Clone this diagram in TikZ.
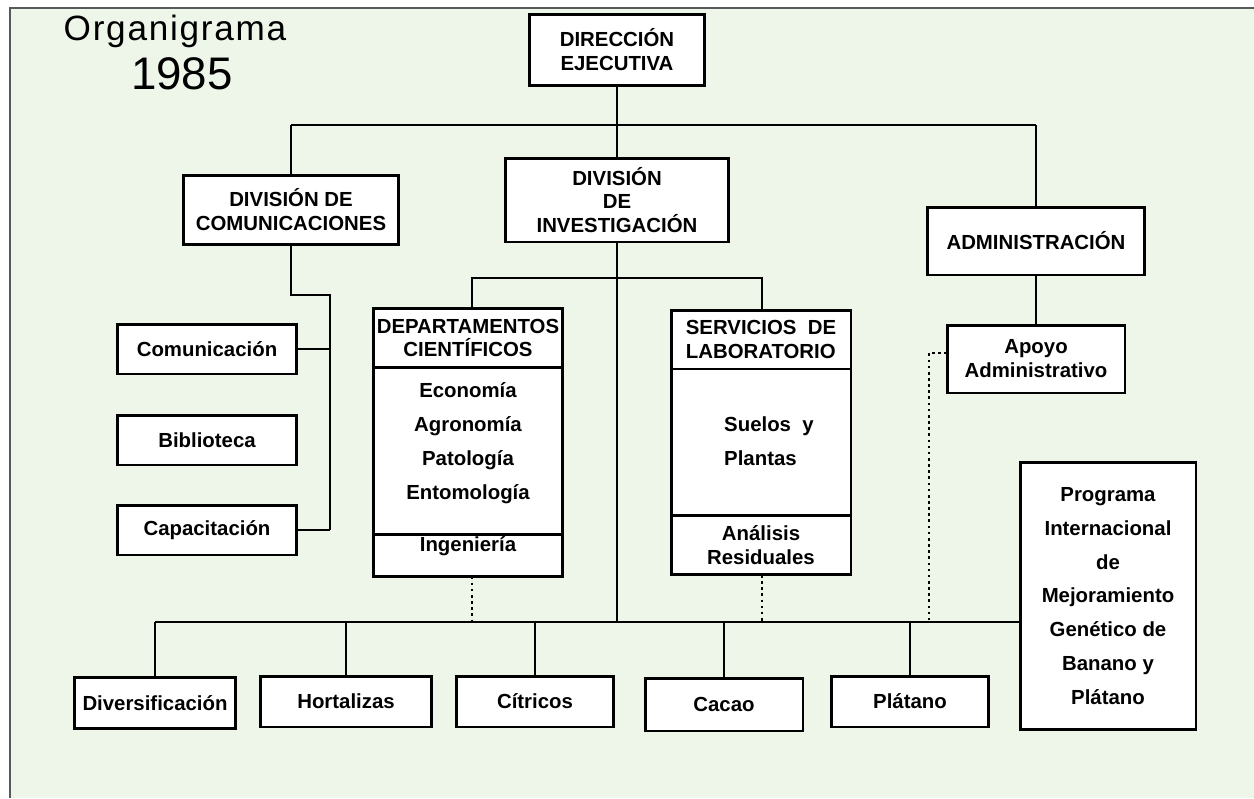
\documentclass[tikz,border=0pt]{standalone}
\usepackage{fontspec}
\setmainfont{Liberation Sans}
\newfontfamily\titlefont[LetterSpace=5]{Liberation Sans}
\usetikzlibrary{positioning}
\definecolor{fondo}{RGB}{238,245,233}
\begin{document}
\begin{tikzpicture}[x=0.02cm, y=-0.02cm,
    caja/.style = {draw, line width=1.7pt, fill=white, outer sep=0pt, inner sep=0pt,
                   align=center, font={\bfseries\fontsize{11.6}{13.6}\selectfont}},
    hijo/.style = {caja, minimum width=3.58cm, minimum height=1cm},
    txt/.style = {font={\bfseries\fontsize{11.6}{19.3}\selectfont}},
    linea/.style = {line width=1.4pt},
    punteado/.style = {line width=1.5pt, dotted}]
    \useasboundingbox (0,0) rectangle (1254,798);
    \fill[fondo] (10,8) rectangle (1254,798);
    \draw[line width=1pt, gray!70!black] (10,798) -- (10,8) -- (1254,8);

    \node[font={\titlefont\fontsize{20}{24}\selectfont}] (tit) at (175,31) {Organigrama};
    \node[font={\fontsize{26}{30}\selectfont}] (anio) at (182,74) {1985};

    \node[caja, minimum width=3.52cm, minimum height=1.42cm] (dir) at (617,50) {DIRECCIÓN\\EJECUTIVA};
    \node[caja, minimum width=4.3cm, minimum height=1.38cm] (com) at (291,210) {DIVISIÓN DE\\COMUNICACIONES};
    \node[caja, minimum width=4.48cm, minimum height=1.68cm] (inv) at (617,200) {DIVISIÓN\\DE\\INVESTIGACIÓN};
    \node[caja, minimum width=4.34cm, minimum height=1.36cm] (adm) at (1036,241) {ADMINISTRACIÓN};
    \node[caja, minimum width=3.56cm, minimum height=1.36cm] (apo) at (1036,359) {Apoyo\\Administrativo};

    \node[hijo] (comu) at (207,349) {Comunicación};
    \node[hijo] (bib) at (207,440) {Biblioteca};
    \node[hijo] (capa) at (207,530) {Capacitación};

    \node[caja, minimum width=3.78cm, minimum height=1.18cm] (dephead) at (468,338) {DEPARTAMENTOS\\CIENTÍFICOS};
    \node[caja, minimum width=3.78cm, minimum height=3.34cm, below=0pt of dephead] (depbody) {};
    \node[caja, minimum width=3.78cm, minimum height=0.84cm, below=0pt of depbody] (depfoot) {};
    \node[txt, align=center] (deptxt) at (468,443) {Economía\\Agronomía\\Patología\\Entomología};
    \node[txt] (ing) at (468,546) {Ingeniería};

    \node[caja, minimum width=3.6cm, minimum height=1.18cm, align=left] (labhead) at (761,339.5) {SERVICIOS~~DE\\LABORATORIO};
    \node[caja, minimum width=3.6cm, minimum height=2.94cm, below=0pt of labhead] (labbody) {};
    \node[caja, minimum width=3.6cm, minimum height=1.18cm, below=0pt of labbody] (labfoot) {Análisis\\Residuales};
    \node[txt, align=left, anchor=west] (suelos) at (718,441) {Suelos~~y\\Plantas};

    \node[caja, txt, align=center, minimum width=3.52cm, minimum height=5.36cm] (prog) at (1108,596)
        {Programa\\Internacional\\de\\Mejoramiento\\Genético de\\Banano y\\Plátano};

    \node[caja, minimum width=3.24cm, minimum height=1.02cm] (div) at (155,703) {Diversificación};
    \node[caja, minimum width=3.42cm, minimum height=1.02cm] (hor) at (346,701.5) {Hortalizas};
    \node[caja, minimum width=3.14cm, minimum height=1.02cm] (cit) at (535,701.5) {Cítricos};
    \node[caja, minimum width=3.16cm, minimum height=1.06cm] (cac) at (724,704.5) {Cacao};
    \node[caja, minimum width=3.14cm, minimum height=1.02cm] (pla) at (910,701.5) {Plátano};

    \coordinate (tl) at (291,125);
    \coordinate (tr) at (1036,125);
    \draw[linea] (dir) -- (inv);
    \draw[linea] (tl) -- (tr);
    \draw[linea] (tl) -- (com);
    \draw[linea] (tr) -- (adm);
    \draw[linea] (adm) -- (apo);

    \coordinate (c1) at (330,295);
    \coordinate (c2) at (330,530);
    \draw[linea] (com) |- (c1) -- (c2);
    \draw[linea] (comu) -- (comu -| c1);
    \draw[linea] (capa) -- (capa -| c1);

    \coordinate (s1) at (472,278);
    \coordinate (s2) at (762,278);
    \draw[linea] (dephead.north -| s1) -- (s1) -- (s2) -- (labhead.north -| s2);

    \coordinate (b1) at (155,622);
    \coordinate (b2) at (1020,622);
    \draw[linea] (b1) -- (b2);
    \draw[linea] (inv) -- (inv |- b1);
    \foreach \n in {div,hor,cit,cac,pla}
        \draw[linea] (\n) -- (\n |- b1);

    \coordinate (a0) at (929,353);
    \coordinate (a1) at (929,622);
    \draw[punteado] (depfoot.south -| s1) -- (s1 |- b1);
    \draw[punteado] (labfoot.south -| s2) -- (s2 |- b1);
    \draw[punteado] (apo.west |- a0) -- (a0) -- (a1);
\end{tikzpicture}
\end{document}
